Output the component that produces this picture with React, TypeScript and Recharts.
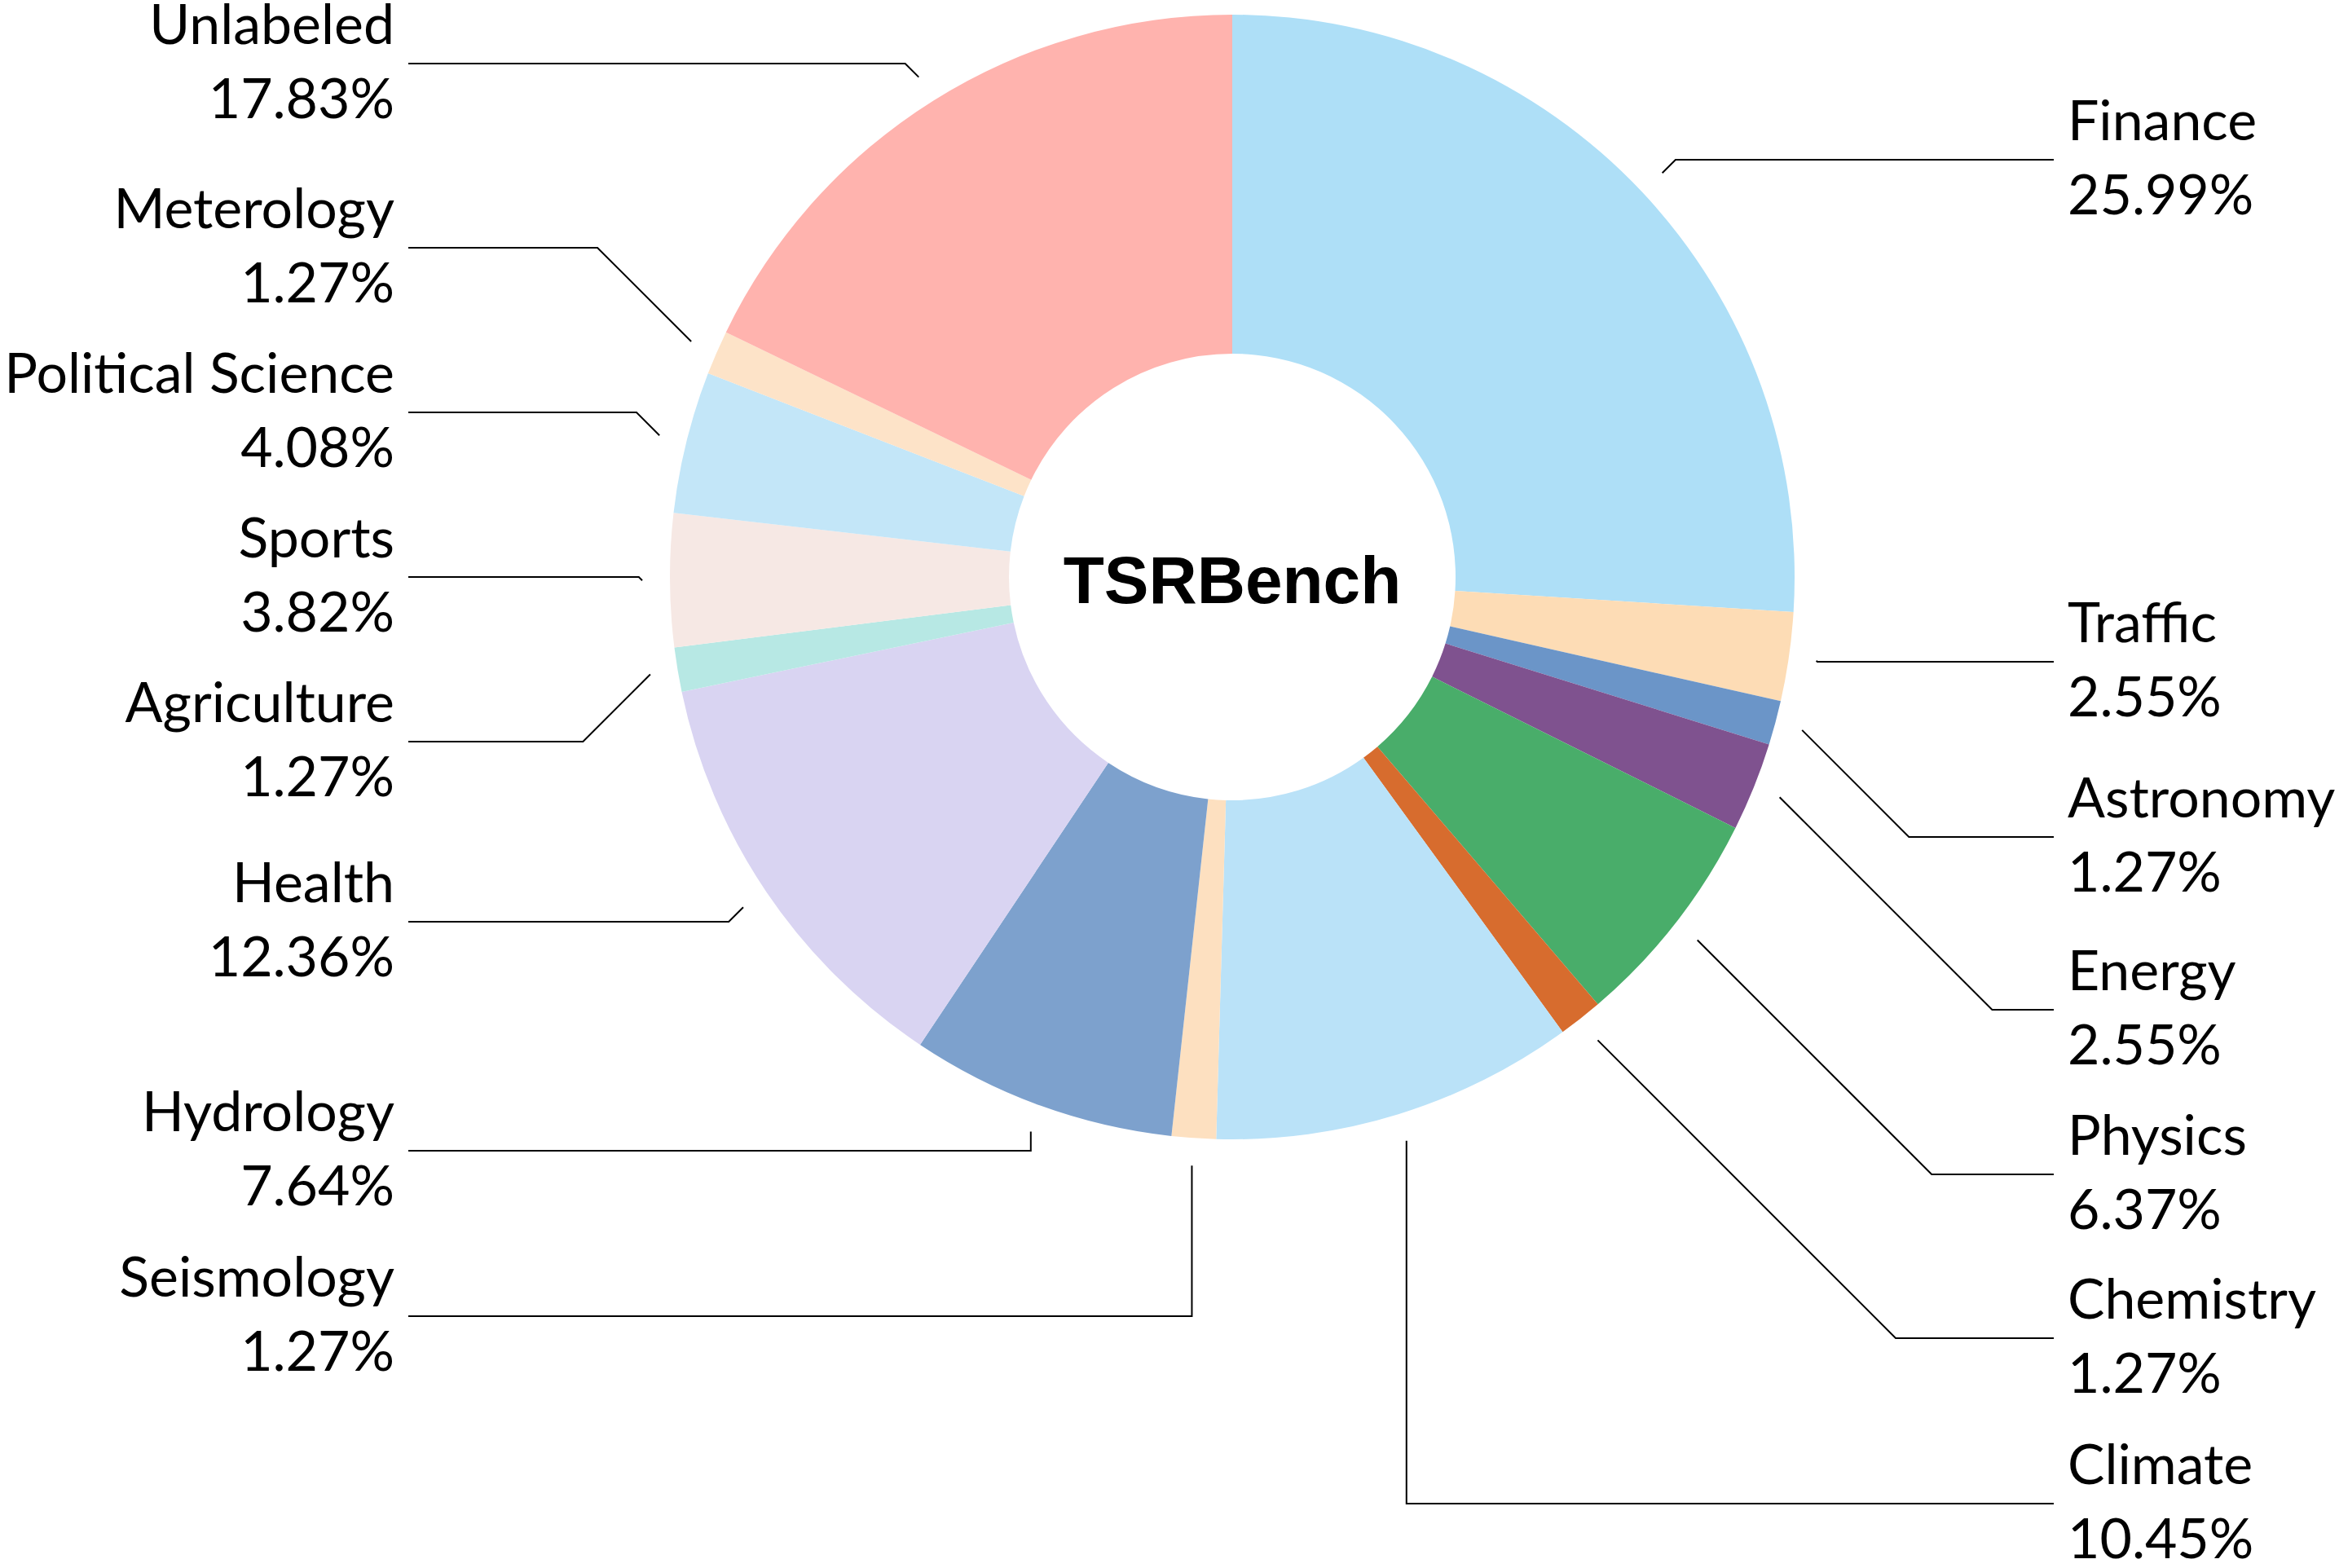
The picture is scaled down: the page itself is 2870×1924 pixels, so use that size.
import React from 'react'
import { PieChart, Pie, Cell } from 'recharts'

const categories = [
  'Finance', 'Traffic', 'Astronomy', 'Energy', 'Physics', 'Chemistry', 'Climate',
  'Seismology', 'Hydrology', 'Health', 'Agriculture', 'Sports', 'Political Science',
  'Meterology', 'Unlabeled'
]
const shares = [25.99, 2.55, 1.27, 2.55, 6.37, 1.27, 10.45, 1.27, 7.64, 12.36, 1.27, 3.82, 4.08, 1.27, 17.83]
const colors = [
  '#AEDFF7', '#FDDCB5', '#6B95C8', '#7F528F', '#49AD6A', '#D76C2E', '#BAE2F8',
  '#FDE0C0', '#7DA1CD', '#D9D4F2', '#B7E8E4', '#F6E8E4', '#C3E6F8', '#FDE3C8', '#FFB3AE'
]
const title = 'TSRBench'

// y of the horizontal part of each leader line (layout only)
const leaderRowY = [196, 812, 1027, 1239, 1441, 1642, 1845, 1615, 1412, 1131, 910, 708, 506, 304, 78]

const data = categories.map((name, i) => ({ name, value: shares[i] }))

const RAD = Math.PI / 180
const FONT = 'Lato, "Noto Sans", sans-serif'

const renderLabel = (props: any) => {
  const { cx, cy, midAngle, outerRadius, index, value, name } = props
  const ux = Math.cos(-midAngle * RAD)
  const uy = Math.sin(-midAngle * RAD)
  const sx = cx + (outerRadius + 34) * ux
  const sy = cy + (outerRadius + 34) * uy
  const rowY = leaderRowY[index]
  const right = sx >= cx
  const vertical = uy > 0.9
  const ex = vertical ? sx : sx + (right ? 1 : -1) * Math.abs(rowY - sy)
  const endX = right ? 2520 : 501
  const textX = right ? 2537 : 484
  return (
    <g key={`lbl-${index}`}>
      <polyline
        points={`${sx},${sy} ${ex},${rowY} ${endX},${rowY}`}
        fill="none"
        stroke="#000"
        strokeWidth={2}
      />
      <text
        x={textX}
        y={rowY - 24}
        textAnchor={right ? 'start' : 'end'}
        fontFamily={FONT}
        fontSize={68}
        fill="#000"
      >
        {name}
      </text>
      <text
        x={textX}
        y={rowY + 67}
        textAnchor={right ? 'start' : 'end'}
        fontFamily={FONT}
        fontSize={68}
        fill="#000"
      >
        {`${Number(value).toFixed(2)}%`}
      </text>
    </g>
  )
}

const App: React.FC = () => {
  return (
    <div style={{ position: 'absolute', left: 0, top: 0, background: '#fff' }}>
      <PieChart
        width={2870}
        height={1924}
        margin={{ top: 0, right: 0, bottom: 0, left: 0 }}
      >
        <Pie
          data={data}
          dataKey="value"
          nameKey="name"
          cx={1512}
          cy={708}
          innerRadius={274}
          outerRadius={690}
          startAngle={90}
          endAngle={-270}
          stroke="none"
          label={renderLabel}
          labelLine={false}
          isAnimationActive={false}
        >
          {data.map((d, i) => (
            <Cell key={d.name} fill={colors[i]} />
          ))}
        </Pie>
        <text
          x={1512}
          y={740}
          textAnchor="middle"
          fontFamily='"Liberation Sans", Arial, sans-serif'
          fontWeight="bold"
          fontSize={82}
          fill="#000"
        >
          {title}
        </text>
      </PieChart>
    </div>
  )
}

export default App
